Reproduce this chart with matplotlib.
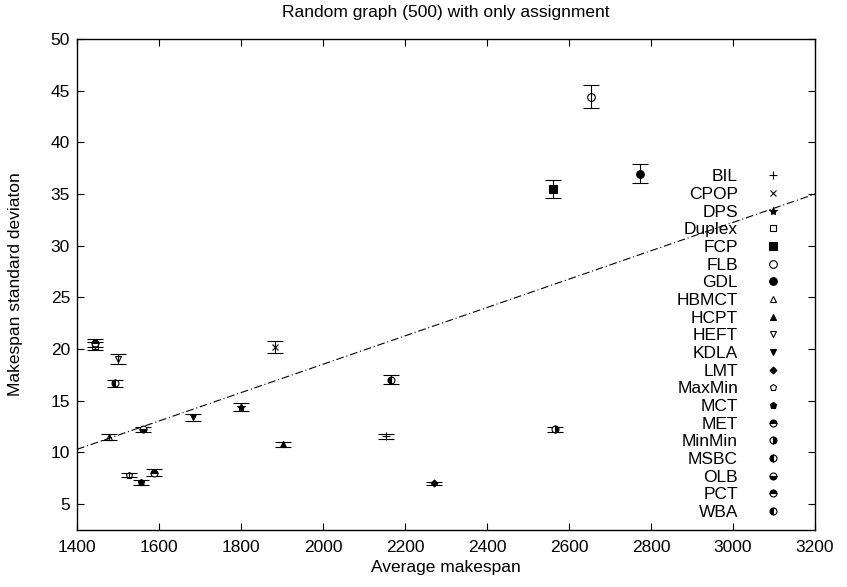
import numpy as np
import matplotlib.pyplot as plt
from matplotlib.lines import Line2D

plt.rcParams['font.family'] = ['Liberation Sans', 'DejaVu Sans']

names = ['BIL', 'CPOP', 'DPS', 'Duplex', 'FCP', 'FLB', 'GDL', 'HBMCT', 'HCPT', 'HEFT',
         'KDLA', 'LMT', 'MaxMin', 'MCT', 'MET', 'MinMin', 'MSBC', 'OLB', 'PCT', 'WBA']
makespan = [2154, 1884, 1800, 1444, 2560, 2654, 2774, 1478, 1903, 1501,
            1682, 2271, 1528, 1557, 1588, 2567, 1493, 1560, 1444, 2165]
stddev = [11.55, 20.2, 14.4, 20.3, 35.5, 44.4, 36.97, 11.5, 10.8, 19.05,
          13.4, 7.03, 7.8, 7.1, 8.06, 12.25, 16.7, 12.25, 20.6, 17.05]
err = [0.25, 0.6, 0.35, 0.35, 0.9, 1.1, 0.95, 0.3, 0.25, 0.5,
       0.35, 0.15, 0.2, 0.2, 0.3, 0.25, 0.35, 0.25, 0.35, 0.4]

# gnuplot-like point types
markers = ['+', 'x', '*', 's', 's', 'o', 'o', '^', '^', 'v',
           'v', 'D', 'p', 'p', 'o', 'o', 'o', 'o', 'o', 'o']
fills = ['full', 'full', 'full', 'none', 'full', 'none', 'full', 'none', 'full', 'none',
         'full', 'full', 'none', 'full', 'top', 'right', 'left', 'bottom', 'top', 'left']
msizes = [6, 5, 6, 5, 5.5, 5.5, 5.5, 5, 5, 5, 5, 3.5, 5, 5, 5, 5, 5, 5, 5, 5]

fit_x = [1400, 3200]
fit_y = [10.3, 35.0]

fs = 12.5
fig = plt.figure(figsize=(8.47, 5.87), dpi=100)
ax = fig.add_axes([0.0909, 0.0971, 0.8713, 0.8365])

handles = []
for i in range(len(names)):
    ax.errorbar(makespan[i], stddev[i], yerr=err[i], fmt='none', ecolor='black',
                elinewidth=0.8, capsize=5.5, capthick=0.8)
    kw = dict(marker=markers[i], color='black', markersize=msizes[i], fillstyle=fills[i],
              markeredgewidth=0.8, linestyle='none')
    if fills[i] not in ('full', 'none'):
        kw['markerfacecoloralt'] = 'white'
    ax.plot(makespan[i], stddev[i], **kw)
    handles.append(Line2D([], [], label=names[i], **kw))

ax.plot(fit_x, fit_y, color='black', linewidth=0.8, linestyle=(0, (7, 2.5, 1, 2.5)))

ax.set_xlim(1400, 3200)
ax.set_ylim(2.5, 50)
ax.set_xticks(np.arange(1400, 3201, 200))
ax.set_yticks(np.arange(5, 51, 5))
ax.tick_params(direction='in', top=True, right=True, length=5, labelsize=fs)
ax.tick_params(axis='x', pad=7)
ax.tick_params(axis='y', pad=5)
for s in ax.spines.values():
    s.set_linewidth(1.0)

ax.set_title('Random graph (500) with only assignment', fontsize=fs, pad=16)
ax.set_xlabel('Average makespan', fontsize=fs, labelpad=4)
ax.set_ylabel('Makespan standard deviaton', fontsize=fs, labelpad=20)

ax.legend(handles=handles, loc='upper right', bbox_to_anchor=(0.9545, 0.735),
          frameon=False, markerfirst=False, fontsize=fs, labelspacing=0.145,
          handlelength=1.0, handletextpad=1.5, borderpad=0, borderaxespad=0)

fig.savefig('out.png', dpi=100)
